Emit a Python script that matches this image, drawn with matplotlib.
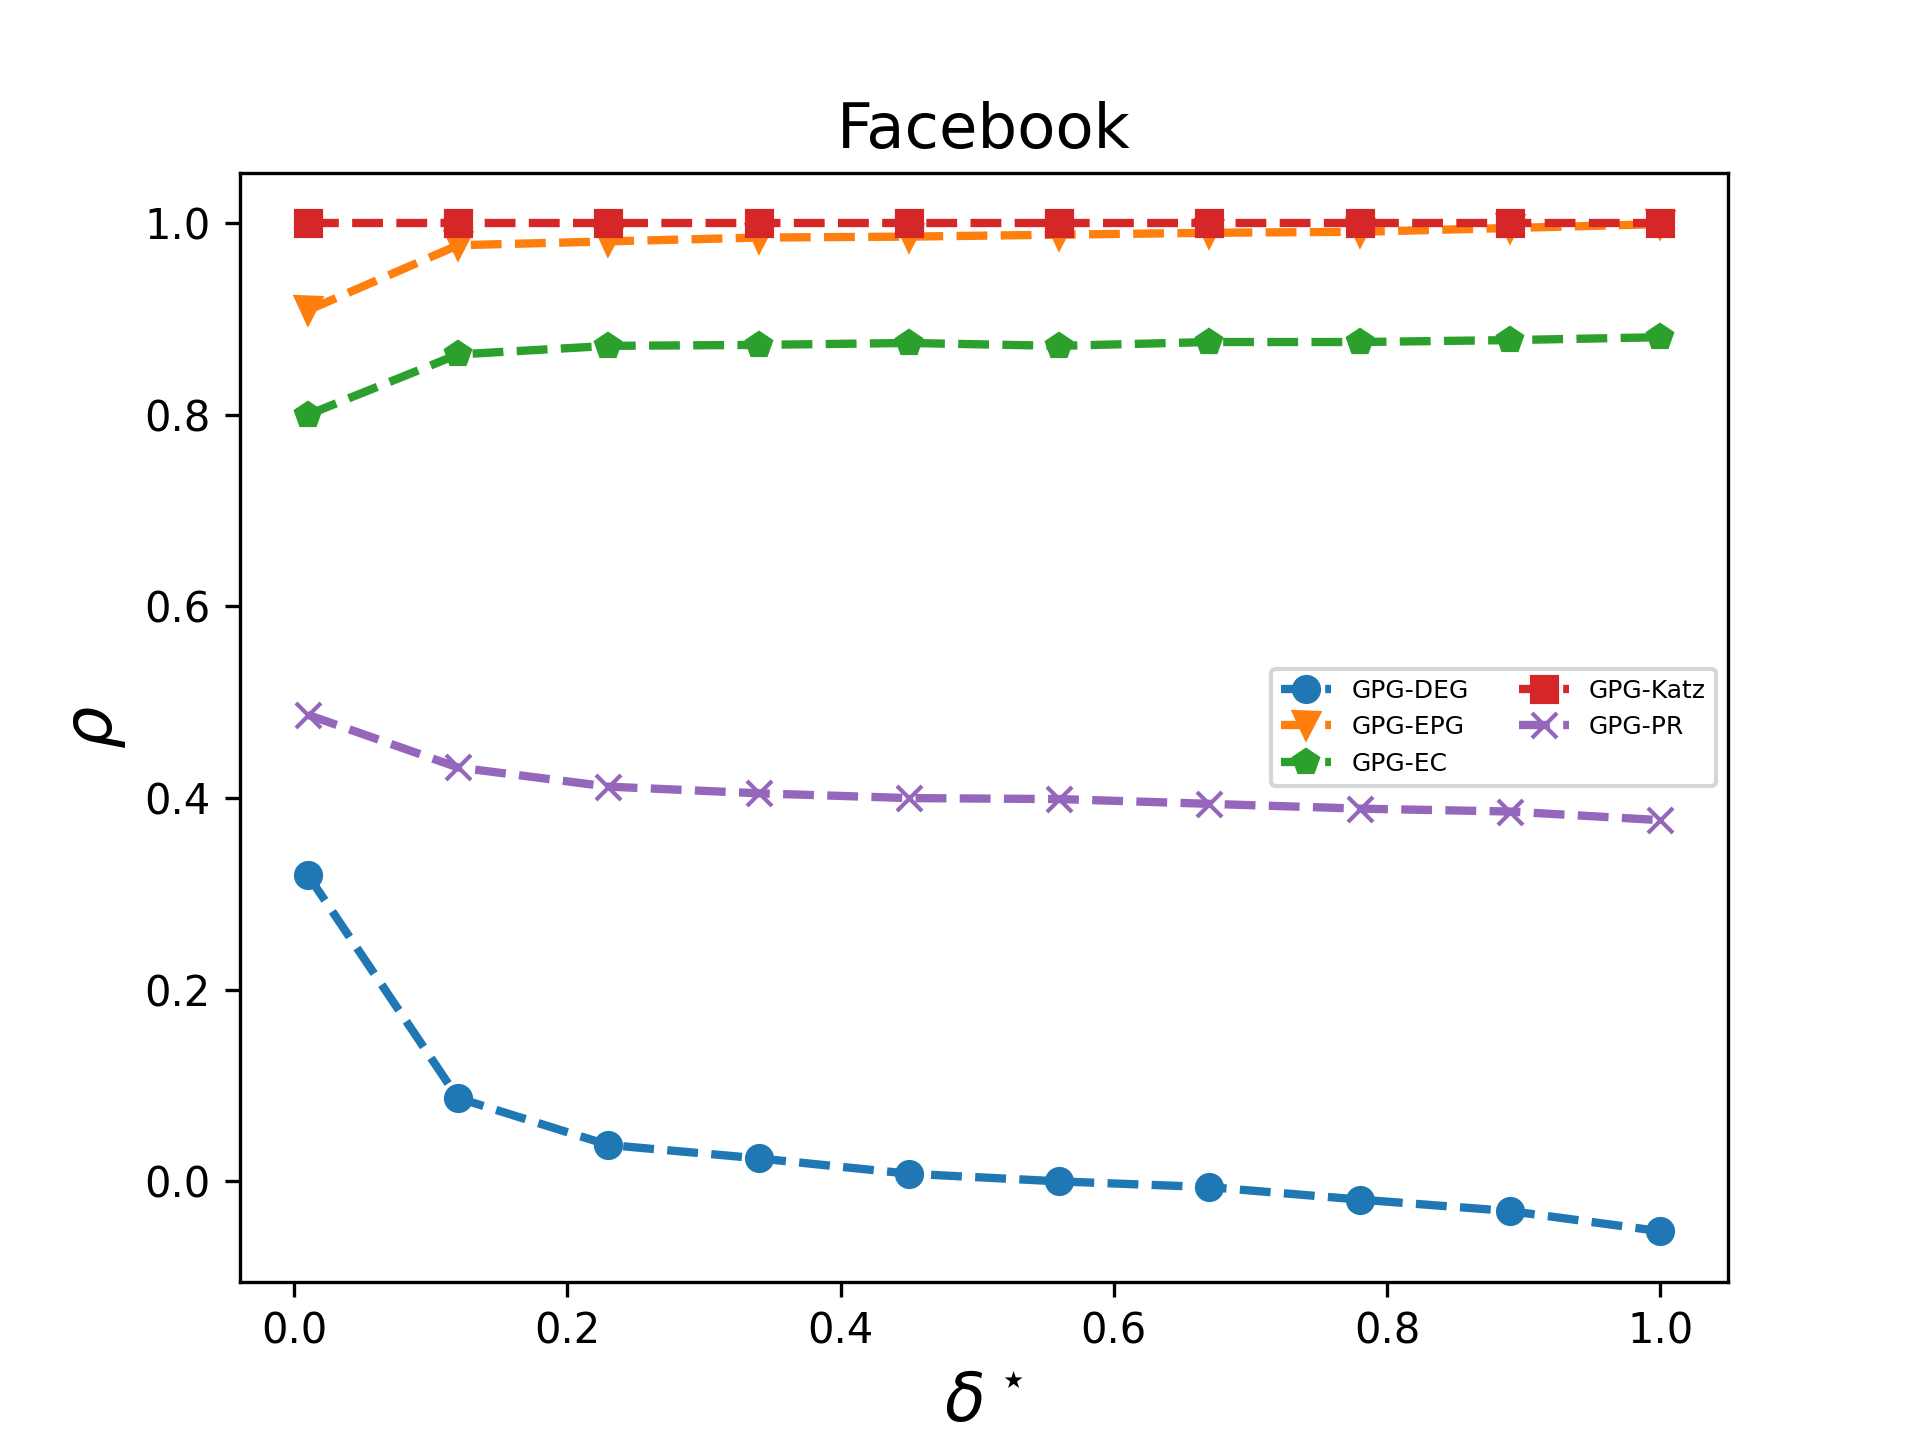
import matplotlib
matplotlib.use("Agg")
import matplotlib.pyplot as plt

delta = [0.01, 0.12, 0.23, 0.34, 0.45, 0.56, 0.67, 0.78, 0.89, 1.0]
gpg_deg = [0.320, 0.087, 0.038, 0.024, 0.008, 0.000, -0.006, -0.019, -0.031, -0.052]
gpg_epg = [0.909, 0.977, 0.981, 0.985, 0.986, 0.988, 0.990, 0.991, 0.995, 0.999]
gpg_ec = [0.800, 0.863, 0.872, 0.873, 0.875, 0.872, 0.876, 0.876, 0.878, 0.881]
gpg_katz = [1.0, 1.0, 1.0, 1.0, 1.0, 1.0, 1.0, 1.0, 1.0, 1.0]
gpg_pr = [0.487, 0.432, 0.412, 0.405, 0.400, 0.399, 0.394, 0.389, 0.386, 0.377]

series = [
    ("GPG-DEG", gpg_deg, "o", "#1f77b4"),
    ("GPG-EPG", gpg_epg, "v", "#ff7f0e"),
    ("GPG-EC", gpg_ec, "p", "#2ca02c"),
    ("GPG-Katz", gpg_katz, "s", "#d62728"),
    ("GPG-PR", gpg_pr, "x", "#9467bd"),
]

fig, ax = plt.subplots(figsize=(6.4, 4.8), dpi=300)
for label, vals, marker, color in series:
    ax.plot(delta, vals, linestyle="--", linewidth=2, marker=marker,
            color=color, label=label)

ax.set_title("Facebook", fontsize=15)
ax.set_xlabel(r"$\delta^\star$", fontsize=16)
ax.set_ylabel(r"$\rho$", fontsize=16)
ax.legend(loc="center right", ncol=2, fontsize=6)
fig.savefig("out.png", dpi=300)
